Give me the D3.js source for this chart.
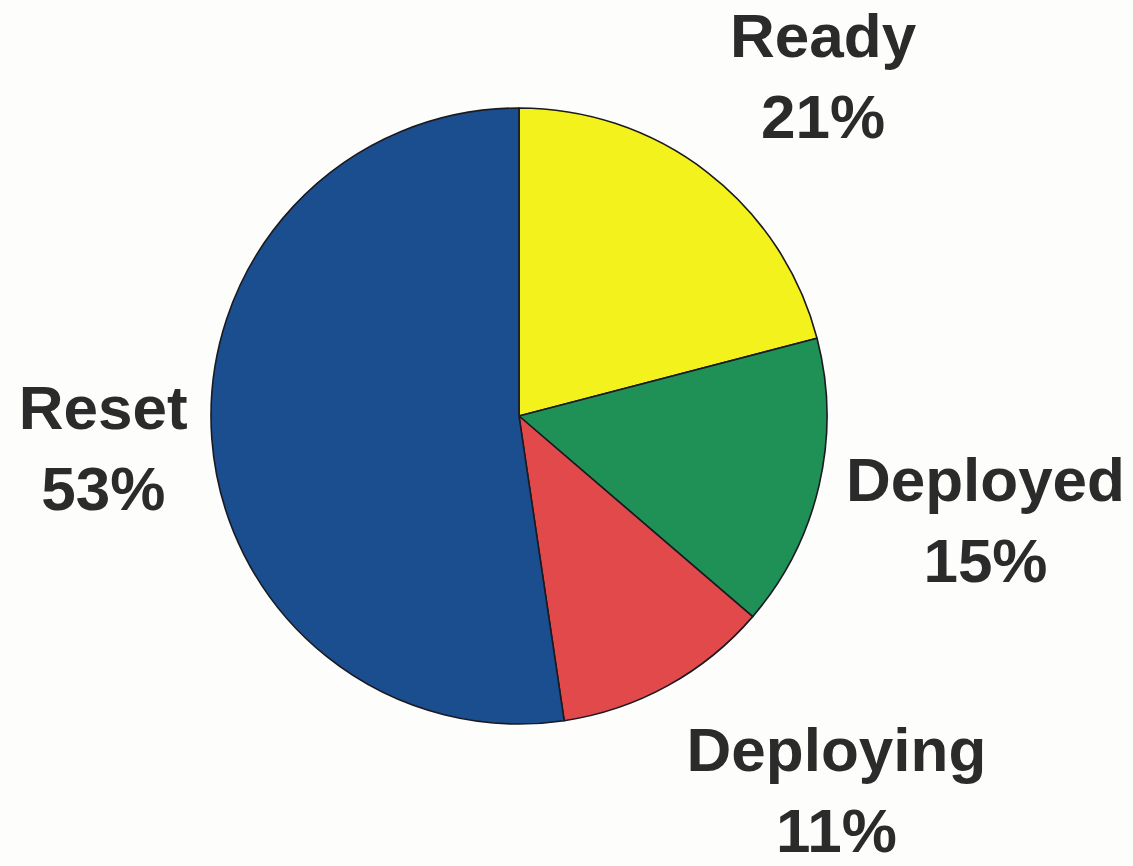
<!DOCTYPE html>
<html>
<head>
<meta charset="utf-8">
<script src="https://cdn.jsdelivr.net/npm/d3@7"></script>
<style>
  html, body { margin: 0; padding: 0; background: #fdfdfb; }
  svg { display: block; }
</style>
</head>
<body>
<svg id="chart" width="1133" height="866"></svg>
<script>
// ---- data ----
const categories = ["Ready", "Deployed", "Deploying", "Reset"];
const shares = [21.0, 15.4, 11.4, 52.5];
const percentLabels = ["21%", "15%", "11%", "53%"];
const colors = ["#f4f21c", "#1f9157", "#e2494a", "#1b4e8e"];

// ---- layout ----
const W = 1133, H = 866;
const cx = 519, cy = 416, R = 308;
const labelRadius = 450;
const labelNudge = [[29, 37], [28, 24], [100, 1], [33, 20]];

const svg = d3.select("#chart");
svg.append("rect").attr("width", W).attr("height", H).attr("fill", "#fdfdfb");

const g = svg.append("g").attr("transform", `translate(${cx},${cy})`);

const pie = d3.pie().sort(null).value(d => d.value);
const data = categories.map((c, i) => ({ name: c, value: shares[i], label: percentLabels[i], color: colors[i], i }));
const arcs = pie(data);

const arc = d3.arc().innerRadius(0).outerRadius(R);
const labelArc = d3.arc().innerRadius(labelRadius).outerRadius(labelRadius);

g.selectAll("path.slice")
  .data(arcs)
  .join("path")
  .attr("class", "slice")
  .attr("d", arc)
  .attr("fill", d => d.data.color)
  .attr("stroke", "#1a1a22")
  .attr("stroke-width", 1.6)
  .attr("stroke-linejoin", "round");

const labels = g.selectAll("g.label")
  .data(arcs)
  .join("g")
  .attr("class", "label")
  .attr("transform", d => {
    const [x, y] = labelArc.centroid(d);
    const [nx, ny] = labelNudge[d.data.i];
    return `translate(${x + nx},${y + ny})`;
  });

labels.append("text")
  .attr("text-anchor", "middle")
  .attr("y", -40)
  .attr("font-family", "'Liberation Sans', Arial, sans-serif")
  .attr("font-weight", "bold")
  .attr("font-size", 62)
  .attr("fill", "#2b2b2b")
  .text(d => d.data.name);

labels.append("text")
  .attr("text-anchor", "middle")
  .attr("y", 41)
  .attr("font-family", "'Liberation Sans', Arial, sans-serif")
  .attr("font-weight", "bold")
  .attr("font-size", 62)
  .attr("fill", "#2b2b2b")
  .text(d => d.data.label);
</script>
</body>
</html>
